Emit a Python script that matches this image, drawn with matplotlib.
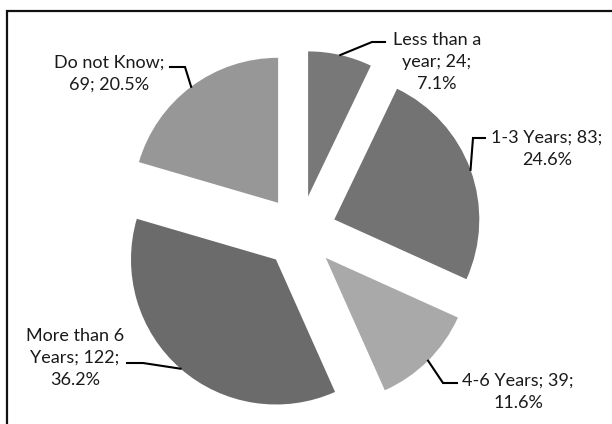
import numpy as np
import matplotlib
matplotlib.use('Agg')
import matplotlib.pyplot as plt

# data
labels = ['Less than a\nyear', '1-3 Years', '4-6 Years', 'More than 6\nYears', 'Do not Know']
counts = [24, 83, 39, 122, 69]
percents = [7.1, 24.6, 11.6, 36.2, 20.5]
colors = ['#787878', '#737373', '#a9a9a9', '#6b6b6b', '#979797']

plt.rcParams['font.family'] = ['Lato', 'DejaVu Sans']

W, H = 612, 424
fig = plt.figure(figsize=(W / 100, H / 100), dpi=100)
ax = fig.add_axes([0, 0, 1, 1])

# pixel-like coordinates, y going up
def Y(y):
    return H - y

wedges, _ = ax.pie(counts, colors=colors, startangle=90, counterclock=False,
                   center=(300, Y(232)), radius=145, explode=[36.5] * 5,
                   wedgeprops=dict(linewidth=0))
ax.set_xlim(0, W)
ax.set_ylim(0, H)
ax.set_aspect('auto')
ax.axis('off')

# label text: "name; count; pct%"
texts = [
    'Less than a\nyear; %d;\n%.1f%%' % (counts[0], percents[0]),
    '1-3 Years; %d;\n%.1f%%' % (counts[1], percents[1]),
    '4-6 Years; %d;\n%.1f%%' % (counts[2], percents[2]),
    'More than 6\nYears; %d;\n%.1f%%' % (counts[3], percents[3]),
    'Do not Know;\n%d; %.1f%%' % (counts[4], percents[4]),
]
# label centre, elbow and end of leader line (reference pixels)
text_pos = [(437, 62), (547, 149), (518, 392), (75, 358), (109, 74)]
elbows = [(372, 42), (473, 138), (443, 383), (143, 363), (185, 67)]
ends = [(385, 42), (485, 138), (457, 383), (127, 363), (170, 67)]

for w, t, tp, el, en in zip(wedges, texts, text_pos, elbows, ends):
    tm = np.deg2rad((w.theta1 + w.theta2) / 2)
    cx, cy = w.center
    ex = cx + w.r * np.cos(tm)
    ey = cy + w.r * np.sin(tm)
    ax.plot([ex, el[0], en[0]], [ey, Y(el[1]), Y(en[1])], color='black', lw=1.5,
            solid_joinstyle='miter')
    ax.text(tp[0], Y(tp[1]), t, ha='center', va='center', fontsize=13,
            linespacing=1.45, color='#1a1a1a')

# cropped bottom edge of the original picture
ax.add_patch(plt.Rectangle((9, 0), W, Y(413), color='white', zorder=5))

# chart area border (top and left visible)
ax.plot([7, 7, W], [0, Y(11), Y(11)], color='#111111', lw=1.6, zorder=6,
        solid_joinstyle='miter')

fig.savefig('out.png', dpi=100)
